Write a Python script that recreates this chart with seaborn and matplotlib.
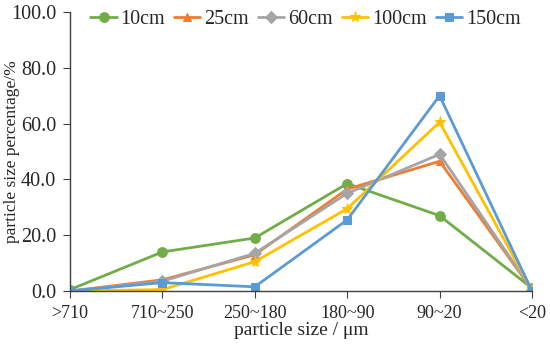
import matplotlib
matplotlib.use("Agg")
import matplotlib.pyplot as plt
import seaborn as sns
import pandas as pd

categories = [">710", "710~250", "250~180", "180~90", "90~20", "<20"]
series_names = ["10cm", "25cm", "60cm", "100cm", "150cm"]
v10 = [0.5, 14.0, 19.0, 38.5, 27.0, 1.0]
v25 = [0.0, 4.0, 13.0, 36.5, 46.5, 0.5]
v60 = [0.0, 3.5, 13.5, 35.0, 49.0, 0.5]
v100 = [0.0, 0.5, 10.5, 29.5, 60.5, 0.3]
v150 = [0.0, 3.0, 1.5, 25.5, 70.0, 0.0]
yticks = [0, 20, 40, 60, 80, 100]

colors = ["#70AD47", "#ED7D31", "#A5A5A5", "#FFC000", "#5B9BD5"]
markers = ["o", "^", "D", "*", "s"]
sizes = [7, 6, 6, 8, 6]

sns.set_style("ticks")
plt.rcParams["font.family"] = ["Liberation Serif", "DejaVu Serif"]

rows = []
for name, vals in zip(series_names, [v10, v25, v60, v100, v150]):
    for i, (c, v) in enumerate(zip(categories, vals)):
        rows.append({"series": name, "x": i, "cat": c, "value": v})
df = pd.DataFrame(rows)

fig = plt.figure(figsize=(5.5, 3.49), dpi=100)
ax = fig.add_axes([70/550, 1-291/349, (532-70)/550, (291-12)/349])

for name, col, m, s in zip(series_names, colors, markers, sizes):
    d = df[df["series"] == name]
    sns.lineplot(data=d, x="x", y="value", ax=ax, color=col, marker=m,
                 markersize=s, markeredgecolor=col, linewidth=2, label=name)

ax.set_xlim(0, 5)
ax.set_ylim(0, 100)
ax.set_xticks(range(len(categories)))
ax.set_xticklabels(categories, fontsize=13)
ax.set_yticks(yticks)
ax.set_yticklabels([f"{t:.1f}" for t in yticks], fontsize=14.5)
ax.set_xlabel("particle size / \u03bcm", fontsize=14, labelpad=0)
ax.set_ylabel("particle size percentage/%", fontsize=12.5)
ax.yaxis.set_label_coords(-50/462, 0.5)
for sp in ["top", "right"]:
    ax.spines[sp].set_visible(False)
for sp in ["left", "bottom"]:
    ax.spines[sp].set_color("#404040")
    ax.spines[sp].set_linewidth(1)
ax.tick_params(axis="both", direction="out", length=5, color="#404040", pad=5)
for lbl in ax.get_xticklabels():
    lbl.set_clip_on(False)

leg = ax.legend(loc="upper center", ncol=5, frameon=False, fontsize=14.5,
                bbox_to_anchor=(0.51, 1.035), handlelength=1.3,
                handletextpad=0.2, columnspacing=0.45, borderaxespad=0)
ax.grid(False)
fig.savefig("out.png", dpi=100)
